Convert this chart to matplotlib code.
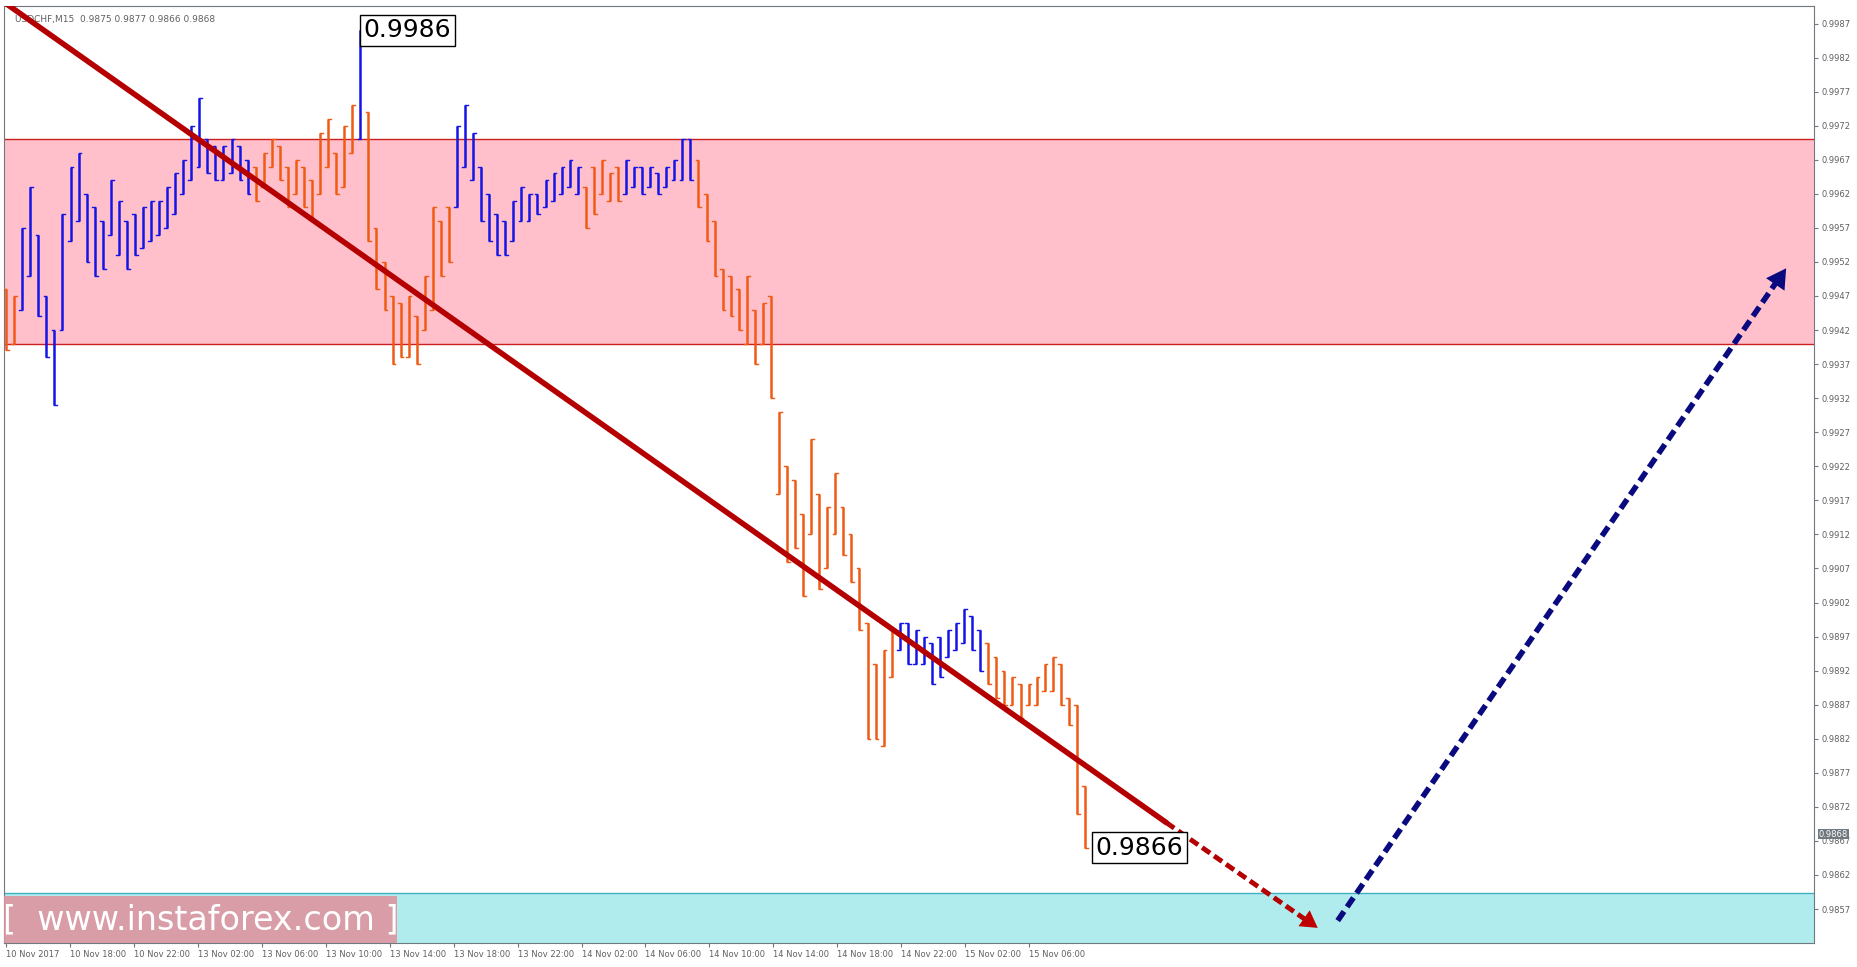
import matplotlib
matplotlib.use("Agg")
import matplotlib.pyplot as plt
from matplotlib.patches import Rectangle, FancyArrowPatch

symbol_header = "USDCHF,M15  0.9875 0.9877 0.9866 0.9868"
lows = [9939,9940,9945,9950,9944,9938,9931,9942,9955,9958,9952,9950,9951,9956,9953,9951,9953,9954,9955,9956,
        9957,9959,9962,9964,9966,9965,9964,9964,9965,9964,9962,9961,9963,9966,9964,9960,9962,9960,9958,9962,
        9966,9962,9963,9968,9970,9955,9948,9945,9937,9938,9938,9937,9942,9945,9950,9952,9960,9966,9964,9958,
        9955,9953,9953,9955,9958,9958,9959,9960,9961,9962,9963,9962,9957,9959,9962,9961,9961,9962,9963,9962,
        9963,9962,9963,9964,9964,9964,9960,9955,9950,9945,9944,9942,9940,9937,9940,9932,9918,9908,9910,9903,
        9912,9904,9907,9912,9909,9905,9898,9882,9882,9881,9891,9895,9893,9893,9893,9890,9891,9894,9895,9896,
        9895,9892,9890,9888,9887,9887,9885,9887,9887,9889,9889,9887,9884,9871,9866]
highs = [9948,9947,9957,9963,9956,9947,9942,9959,9966,9968,9962,9960,9958,9964,9961,9958,9959,9960,9961,9961,
         9963,9965,9967,9972,9976,9970,9969,9969,9970,9969,9967,9966,9968,9970,9969,9966,9967,9966,9964,9971,
         9973,9968,9972,9975,9986,9974,9957,9952,9947,9946,9947,9944,9950,9960,9958,9960,9972,9975,9971,9966,
         9962,9959,9958,9961,9963,9962,9962,9964,9965,9966,9967,9966,9963,9966,9967,9965,9966,9967,9966,9966,
         9966,9965,9966,9967,9970,9970,9967,9962,9958,9951,9950,9948,9950,9945,9946,9947,9930,9922,9920,9915,
         9926,9918,9916,9921,9916,9912,9907,9899,9893,9895,9898,9899,9899,9898,9897,9896,9897,9898,9899,9901,
         9900,9898,9896,9894,9892,9891,9890,9890,9891,9893,9894,9893,9888,9887,9875]
direction = ("duuudddmuu ddduudduuu uuuuudduud dduudduddu uduuuddddd uduudduuud ddduuuduuu uudduuduud "
             "uduuuddddd ddudududdd uduudddddu uuduudduuu ddddduduuu udddd").replace(" ", "").replace("m", "u")
waves = [(0, 1, "d"), (2, 30, "u"), (31, 43, "d"), (44, 44, "u"), (45, 55, "d"), (56, 71, "u"),
         (72, 76, "d"), (77, 85, "u"), (86, 110, "d"), (111, 121, "u"), (122, 134, "d")]
time_labels = ["10 Nov 2017","10 Nov 18:00","10 Nov 22:00","13 Nov 02:00","13 Nov 06:00","13 Nov 10:00",
               "13 Nov 14:00","13 Nov 18:00","13 Nov 22:00","14 Nov 02:00","14 Nov 06:00","14 Nov 10:00",
               "14 Nov 14:00","14 Nov 18:00","14 Nov 22:00","15 Nov 02:00","15 Nov 06:00"]
price_ticks = [0.9857 + 0.0005*k for k in range(27)]
resist_zone = (0.9940, 0.9970)
support_top = 0.98593
high_label = 0.9986
low_label = 0.9866
last_price = 0.9868

fig = plt.figure(figsize=(18.57, 9.67), dpi=100)
fig.patch.set_facecolor("white")
ax = fig.add_axes([0.002, 0.0245, 0.975, 0.9695])
ax.set_xlim(-0.3, 224.6)
ax.set_ylim(0.985197, 0.99896)

ax.axhspan(resist_zone[0], resist_zone[1], facecolor="#ffc0cb", edgecolor="none", zorder=0)
ax.axhline(resist_zone[0], color="#cc2020", lw=1, zorder=1)
ax.axhline(resist_zone[1], color="#cc2020", lw=1, zorder=1)
ax.axhspan(0.98, support_top, facecolor="#b0ecee", edgecolor="none", zorder=0)
ax.axhline(support_top, color="#40b0c0", lw=1, zorder=1)

wave_of = {}
for a, b, w in waves:
    for k in range(a, b + 1):
        wave_of[k] = w

for i, (lo, hi) in enumerate(zip(lows, highs)):
    d = direction[i] if i < len(direction) else "d"
    c = "#1414e6" if wave_of.get(i, "d") == "u" else "#f05a14"
    ax.plot([i, i], [lo/1e4, hi/1e4], color=c, lw=1.8, solid_capstyle="butt", zorder=3)
    cl = hi/1e4 if d == "u" else lo/1e4
    op = lo/1e4 if d == "u" else hi/1e4
    ax.plot([i-0.35, i], [op, op], color=c, lw=1.0, zorder=3)
    ax.plot([i, i+0.35], [cl, cl], color=c, lw=1.0, zorder=3)

x0, y0, x1, y1, x2, y2 = -0.7, 0.99905, 144.1, 0.98697, 163.2, 0.98540
ax.plot([x0, x1], [y0, y1], color="#b40000", lw=4, zorder=5, solid_capstyle="round")
ax.plot([x1, x2-1.5], [y1, y2+0.00012], color="#b40000", lw=3.5, ls=(0, (2, 1)), zorder=5)
ax.add_patch(FancyArrowPatch((x2-3, y2+0.00025), (x2, y2), arrowstyle="-|>,head_length=12,head_width=7",
                             color="#c00000", lw=0, zorder=6))
bx0, by0, bx1, by1 = 165.4, 0.98553, 221.3, 0.99514
ax.plot([bx0, bx1-1.2], [by0, by1-0.0002], color="#0a0a80", lw=4, ls=(0, (2, 1)), zorder=5)
ax.add_patch(FancyArrowPatch((bx1-2, by1-0.00035), (bx1, by1), arrowstyle="-|>,head_length=14,head_width=8",
                             color="#0a0a80", lw=0, zorder=6))

bbox = dict(boxstyle="square,pad=0.15", fc="white", ec="black", lw=1)
ax.text(44.4, high_label, f"{high_label:.4f}", fontsize=18, va="center", ha="left", bbox=bbox, zorder=7)
ax.text(135.3, low_label, f"{low_label:.4f}", fontsize=18, va="center", ha="left", bbox=bbox, zorder=7)

ax.yaxis.tick_right()
ax.set_yticks(price_ticks)
ax.set_yticklabels([f"{p:.4f}" for p in price_ticks], fontsize=6, color="#606060")
ax.tick_params(axis="y", length=3, color="#707880", pad=2)
tick_pos = [k*54/6.8 for k in range(len(time_labels))]
ax.set_xticks(tick_pos)
ax.set_xticklabels(time_labels, fontsize=6, color="#606060", ha="left")
ax.tick_params(axis="x", length=3, color="#707880", pad=2)
for s in ax.spines.values():
    s.set_color("#707880")
ax.annotate(f"{last_price:.4f}", xy=(1.0, last_price), xycoords=("axes fraction", "data"),
            xytext=(3, 0), textcoords="offset points", fontsize=6, color="white", va="center",
            bbox=dict(boxstyle="square,pad=0.1", fc="#707880", ec="none"))

ax.text(0.006, 0.99, symbol_header, transform=ax.transAxes, fontsize=6.5, color="#606060", va="top")

fig.patches.append(Rectangle((0.002, 0.0245), 0.212, 0.049, transform=fig.transFigure,
                             fc="#e0909a", alpha=0.85, ec="none", zorder=10))
fig.text(0.108, 0.049, "[  www.instaforex.com ]", fontsize=24, color="white", ha="center", va="center", zorder=11)

fig.savefig("out.png", dpi=100)
